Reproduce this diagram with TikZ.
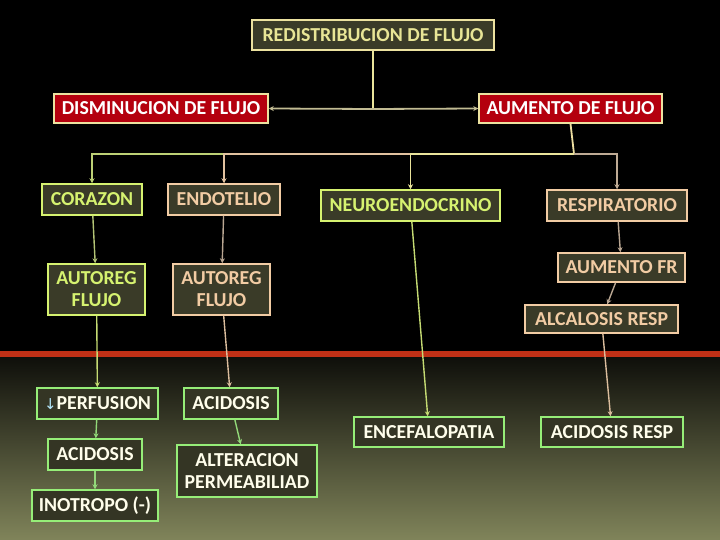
\documentclass[tikz,border=0pt]{standalone}
\usepackage{fontspec}
\setmainfont{Carlito}
\newfontfamily\symfont{DejaVu Sans}
\usetikzlibrary{arrows.meta}
\definecolor{boxfill}{RGB}{58,59,40}
\definecolor{limeline}{RGB}{214,242,112}
\definecolor{peachline}{RGB}{242,204,164}
\definecolor{mintline}{RGB}{150,238,120}
\definecolor{khaki}{RGB}{236,226,160}
\definecolor{darkred}{RGB}{180,0,14}
\definecolor{redbar}{RGB}{192,48,22}
\definecolor{olivebot}{RGB}{128,132,90}
\tikzset{
  every node/.style={font=\fontsize{19.8}{22}\selectfont\bfseries, align=center, inner sep=0pt},
  topbox/.style={draw=khaki, line width=1.5pt, fill=boxfill, text=khaki!80!limeline},
  redbox/.style={draw=khaki, line width=1.5pt, fill=darkred, text=white},
  limebox/.style={draw=limeline, line width=1.5pt, fill=boxfill, text=limeline},
  peachbox/.style={draw=peachline, line width=1.5pt, fill=boxfill, text=peachline},
  mintbox/.style={draw=mintline, line width=1.5pt, fill=boxfill!90!black, text=white!92!yellow},
  link/.style={line width=1.4pt, -{Stealth[length=5pt,width=5pt]}}
}
\begin{document}
\begin{tikzpicture}[x=1pt,y=-1pt]
% background
\fill[black] (0,0) rectangle (720,354);
\shade[top color=black!90!olivebot, bottom color=olivebot] (0,354) rectangle (720,540);
\fill[redbar] (0,351) rectangle (720,357);
\useasboundingbox (0,0) rectangle (720,540);

% top level
\node[topbox, minimum width=242, minimum height=30] (redis) at (373,35) {REDISTRIBUCION DE FLUJO};
\node[redbox, minimum width=214, minimum height=29] (dism) at (161,108.5) {DISMINUCION DE FLUJO};
\node[redbox, minimum width=183, minimum height=29] (aum) at (570.5,108.5) {AUMENTO DE FLUJO};
\coordinate (trunk) at (373,109);
\draw[line width=1.8pt, khaki!90!limeline] (redis.south) -- (trunk);
\draw[link, line width=1.8pt, khaki!60!gray] (trunk) -- (dism.east);
\draw[link, line width=1.8pt, khaki!60!gray] (trunk) -- (aum.west);

% systems
\node[limebox, minimum width=100, minimum height=31] (cor) at (92,199.5) {CORAZON};
\node[peachbox, minimum width=112, minimum height=31] (endo) at (224,199.5) {ENDOTELIO};
\node[limebox, minimum width=179, minimum height=31] (neuro) at (410.5,205.5) {NEUROENDOCRINO};
\node[peachbox, minimum width=140, minimum height=31] (resp) at (617,205.5) {RESPIRATORIO};
\coordinate (split) at (574,154);
\draw[line width=1.8pt, khaki!80!peachline] (aum.south) -- (split);
\draw[link, line width=1.8pt, limeline!70!gray] (split) -| (cor.north);
\draw[link, line width=1.8pt, peachline!85!gray] (split) -| (endo.north);
\draw[link, line width=1.8pt, khaki!90!limeline] (split) -| (neuro.north);
\draw[link, line width=1.8pt, peachline!55!gray] (split) -| (resp.north);

% corazon
\node[limebox, minimum width=97, minimum height=51] (auto1) at (96.5,289.5) {AUTOREG\\FLUJO};
\node[mintbox, minimum width=121, minimum height=31] (perf) at (97.5,403.5) {{\symfont\mdseries\color{white!70!cyan}\fontsize{15}{17}\selectfont↓}PERFUSION};
\node[mintbox, minimum width=94, minimum height=31] (acid1) at (95,454.5) {ACIDOSIS};
\node[mintbox, minimum width=126, minimum height=31] (inot) at (95,505.5) {INOTROPO (-)};
\draw[link, limeline!60!gray] (cor) -- (auto1);
\draw[link, limeline!80!gray] (auto1) -- (perf);
\draw[link, mintline!80!gray] (perf) -- (acid1);
\draw[link, mintline!80!gray] (acid1) -- (inot);

% endotelio
\node[peachbox, minimum width=97, minimum height=51] (auto2) at (221.5,289.5) {AUTOREG\\FLUJO};
\node[mintbox, minimum width=94, minimum height=31] (acid2) at (231,403.5) {ACIDOSIS};
\node[mintbox, minimum width=140, minimum height=52] (alter) at (247,471) {ALTERACION\\PERMEABILIAD};
\draw[link, peachline!50!gray] (endo) -- (auto2);
\draw[link, peachline!80!gray] (auto2) -- (acid2);
\draw[link, mintline!80!gray] (acid2) -- (alter);

% neuroendocrino
\node[mintbox, minimum width=150, minimum height=30] (ence) at (429,432) {ENCEFALOPATIA};
\draw[link, limeline!80!gray] (neuro) -- (ence);

% respiratorio
\node[peachbox, minimum width=127, minimum height=29] (aumfr) at (621.5,267.5) {AUMENTO FR};
\node[peachbox, minimum width=153, minimum height=28] (alca) at (601.5,319) {ALCALOSIS RESP};
\node[mintbox, minimum width=142, minimum height=30] (acresp) at (612,432) {ACIDOSIS RESP};
\draw[link, peachline!50!gray] (resp) -- (aumfr);
\draw[link, peachline!50!gray] (aumfr) -- (alca);
\draw[link, peachline!80!gray] (alca) -- (acresp);
\end{tikzpicture}
\end{document}
